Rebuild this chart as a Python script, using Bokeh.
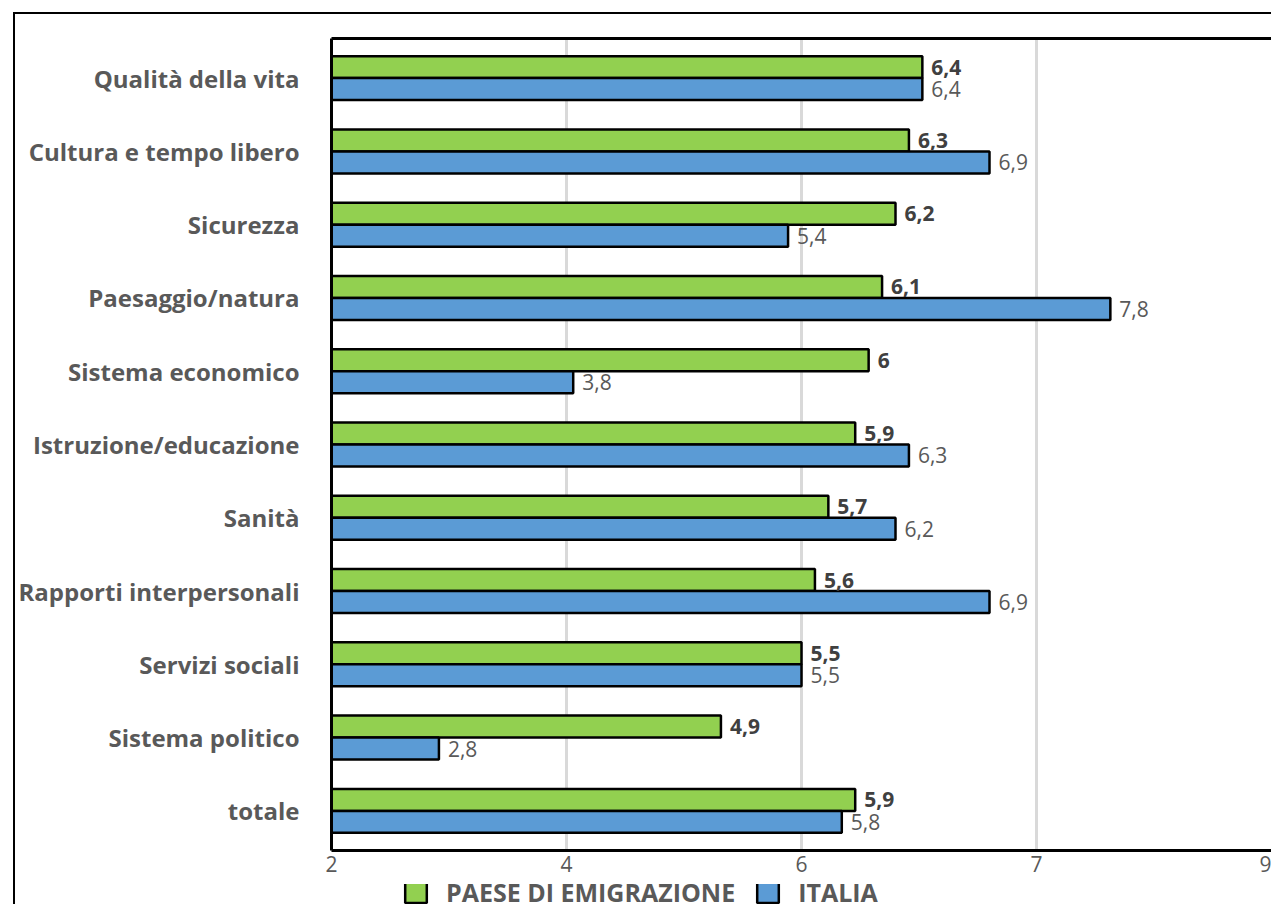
from bokeh.plotting import figure
from bokeh.layouts import column
from bokeh.models import (ColumnDataSource, FactorRange, Range1d, FixedTicker,
                          LinearAxis, Legend, LegendItem)
from bokeh.transform import dodge
from bokeh.core.properties import value
from bokeh.embed import file_html
from bokeh.resources import INLINE

categories = ["Qualità della vita", "Cultura e tempo libero", "Sicurezza",
              "Paesaggio/natura", "Sistema economico", "Istruzione/educazione",
              "Sanità", "Rapporti interpersonali", "Servizi sociali",
              "Sistema politico", "totale"]
paese = [6.4, 6.3, 6.2, 6.1, 6.0, 5.9, 5.7, 5.6, 5.5, 4.9, 5.9]
italia = [6.4, 6.9, 5.4, 7.8, 3.8, 6.3, 6.2, 6.9, 5.5, 2.8, 5.8]
series_names = ["PAESE DI EMIGRAZIONE", "ITALIA"]
x_ticks = [2, 3.75, 5.5, 7.25, 9]
x_tick_labels = ["2", "4", "6", "7", "9"]
x_start = 2
x_end = 9

FONT = "Open Sans"
GRAY = "#595959"
DARK = "#404040"
GREEN = "#92D050"
BLUE = "#5B9BD5"


def fmt(v):
    return f"{v:g}".replace(".", ",")


src = ColumnDataSource(dict(
    cat=categories, paese=paese, italia=italia,
    paese_lbl=[fmt(v) for v in paese],
    italia_lbl=[fmt(v) for v in italia],
))

p = figure(width=1256, height=870, output_backend="svg", toolbar_location=None,
           y_range=FactorRange(factors=categories[::-1], range_padding=0.0074),
           x_range=Range1d(x_start, x_end),
           min_border_left=316, min_border_right=0,
           min_border_top=24, min_border_bottom=34)
p.outline_line_color = None

# grid
p.xgrid.ticker = FixedTicker(ticks=x_ticks[1:-1])
p.xgrid.grid_line_color = "#D9D9D9"
p.xgrid.grid_line_width = 3
p.ygrid.grid_line_color = None

r1 = p.hbar(y=dodge("cat", 0.15, range=p.y_range), left=x_start, right="paese",
            height=0.3, fill_color=GREEN, line_color="black", line_width=2.5,
            source=src)
r2 = p.hbar(y=dodge("cat", -0.15, range=p.y_range), left=x_start, right="italia",
            height=0.3, fill_color=BLUE, line_color="black", line_width=2.5,
            source=src)

p.text(x="paese", y=dodge("cat", 0.15, range=p.y_range), text="paese_lbl",
       x_offset=9, text_baseline="middle", text_align="left",
       text_font=value(FONT), text_font_size="21px", text_font_style="bold",
       text_color=DARK, source=src)
p.text(x="italia", y=dodge("cat", -0.15, range=p.y_range), text="italia_lbl",
       x_offset=9, text_baseline="middle", text_align="left",
       text_font=value(FONT), text_font_size="21px",
       text_color=GRAY, source=src)

# axes
xa = p.below[0]
xa.ticker = FixedTicker(ticks=x_ticks)
xa.major_label_overrides = {t: l for t, l in zip(x_ticks, x_tick_labels)}
xa.axis_line_color = "black"
xa.axis_line_width = 3
xa.major_tick_line_color = None
xa.minor_tick_line_color = None
xa.major_tick_out = 0
xa.major_tick_in = 0
xa.major_label_text_font = FONT
xa.major_label_text_font_size = "21px"
xa.major_label_text_color = GRAY
xa.major_label_standoff = 5

ya = p.left[0]
ya.axis_line_color = "black"
ya.axis_line_width = 3
ya.major_tick_line_color = None
ya.minor_tick_line_color = None
ya.major_tick_out = 0
ya.major_tick_in = 0
ya.major_label_text_font = FONT
ya.major_label_text_font_size = "24px"
ya.major_label_text_font_style = "bold"
ya.major_label_text_color = GRAY
ya.major_label_standoff = 32

top = LinearAxis(ticker=FixedTicker(ticks=[]), axis_line_color="black",
                 axis_line_width=3, major_tick_line_color=None,
                 minor_tick_line_color=None, major_tick_out=0, major_tick_in=0,
                 major_label_text_font_size="0px")
p.add_layout(top, "above")

# legend strip below the chart (its frame is aligned with the chart's frame)
lg = figure(width=1256, height=20, output_backend="svg", toolbar_location=None,
            x_range=Range1d(0, 1), y_range=Range1d(0, 1),
            x_axis_location=None, y_axis_location=None, min_border=0)
lg.outline_line_color = None
lg.grid.visible = False
nan = float("nan")
k1 = lg.hbar(y=[nan], right=[nan], height=0.5, fill_color=GREEN,
             line_color="black", line_width=2.5)
k2 = lg.hbar(y=[nan], right=[nan], height=0.5, fill_color=BLUE,
             line_color="black", line_width=2.5)
legend = Legend(items=[LegendItem(label=series_names[0], renderers=[k1]),
                       LegendItem(label=series_names[1], renderers=[k2])],
                location=(71, -5), orientation="horizontal",
                glyph_width=27, glyph_height=26, label_standoff=17, spacing=19,
                padding=0, margin=0, border_line_color=None,
                background_fill_alpha=0,
                label_text_font=FONT, label_text_font_size="25px",
                label_text_font_style="bold", label_text_color=GRAY,
                label_height=26)
lg.add_layout(legend, "center")

layout = column(p, lg, spacing=0,
                styles={"margin-left": "13px", "margin-top": "12px",
                        "border-left": "2px solid black",
                        "border-top": "2px solid black"})

open("out.html", "w").write(file_html(layout, INLINE))
